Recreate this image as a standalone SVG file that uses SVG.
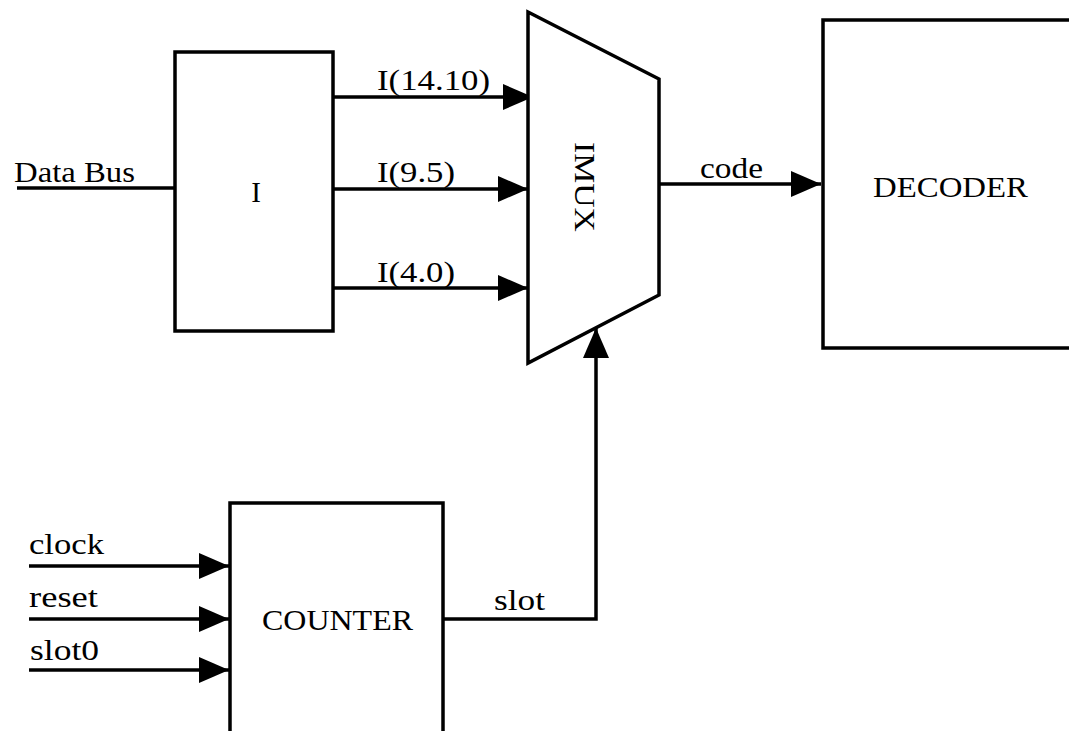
<svg xmlns="http://www.w3.org/2000/svg" width="1069" height="731" viewBox="0 0 1069 731">
<defs>
<style>
.b{fill:#fff;stroke:#000;stroke-width:3.5}
.w{fill:none;stroke:#000;stroke-width:3.5}
.t{font-family:"Liberation Serif","Times New Roman",serif;font-size:29px;fill:#000}
.lg{font-family:"Liberation Serif","Times New Roman",serif;font-size:29px;fill:#000;text-anchor:middle}
</style>
<marker id="ah" markerUnits="userSpaceOnUse" markerWidth="30" markerHeight="26" refX="30" refY="13" orient="auto" viewBox="0 0 30 26">
<path d="M0,0 L30,13 L0,26 z" fill="#000"/>
</marker>
</defs>
<rect width="1069" height="731" fill="#fff"/>
<g id="connectors">
<line class="w" x1="17" y1="188" x2="175" y2="188"/>
<line class="w" x1="333" y1="97" x2="533" y2="97" marker-end="url(#ah)"/>
<line class="w" x1="333" y1="189" x2="528" y2="189" marker-end="url(#ah)"/>
<line class="w" x1="333" y1="288" x2="528" y2="288" marker-end="url(#ah)"/>
<line class="w" x1="659" y1="184" x2="821" y2="184" marker-end="url(#ah)"/>
<line class="w" x1="29" y1="566" x2="229" y2="566" marker-end="url(#ah)"/>
<line class="w" x1="29" y1="619" x2="229" y2="619" marker-end="url(#ah)"/>
<line class="w" x1="29" y1="670" x2="229" y2="670" marker-end="url(#ah)"/>
<polyline class="w" points="443,619 596,619 596,328" marker-end="url(#ah)"/>
<text class="t" x="14" y="182" textLength="121" lengthAdjust="spacingAndGlyphs">Data Bus</text>
<text class="t" x="377" y="90" textLength="113" lengthAdjust="spacingAndGlyphs">I(14.10)</text>
<text class="t" x="377" y="182" textLength="78" lengthAdjust="spacingAndGlyphs">I(9.5)</text>
<text class="t" x="377" y="282" textLength="78" lengthAdjust="spacingAndGlyphs">I(4.0)</text>
<text class="t" x="700" y="178" textLength="63" lengthAdjust="spacingAndGlyphs">code</text>
<text class="t" x="29" y="554" textLength="75" lengthAdjust="spacingAndGlyphs">clock</text>
<text class="t" x="29" y="607" textLength="69" lengthAdjust="spacingAndGlyphs">reset</text>
<text class="t" x="30" y="660" textLength="69" lengthAdjust="spacingAndGlyphs">slot0</text>
<text class="t" x="494" y="610" textLength="51" lengthAdjust="spacingAndGlyphs">slot</text>
</g>
<g id="node-I">
<rect class="b" x="175" y="52" width="158" height="279"/>
<text class="lg" x="256" y="202">I</text>
</g>
<g id="node-IMUX">
<polygon class="b" points="528,12 659,79 659,295 528,363"/>
<text class="lg" transform="translate(575,187) rotate(90)" x="0" y="0" textLength="90" lengthAdjust="spacingAndGlyphs">IMUX</text>
</g>
<g id="node-DECODER">
<rect class="b" x="823" y="20" width="270" height="328"/>
<text class="t" x="873" y="197" textLength="155" lengthAdjust="spacingAndGlyphs">DECODER</text>
</g>
<g id="node-COUNTER">
<rect class="b" x="230" y="503" width="213" height="260"/>
<text class="t" x="262" y="630" textLength="151" lengthAdjust="spacingAndGlyphs">COUNTER</text>
</g>
</svg>
